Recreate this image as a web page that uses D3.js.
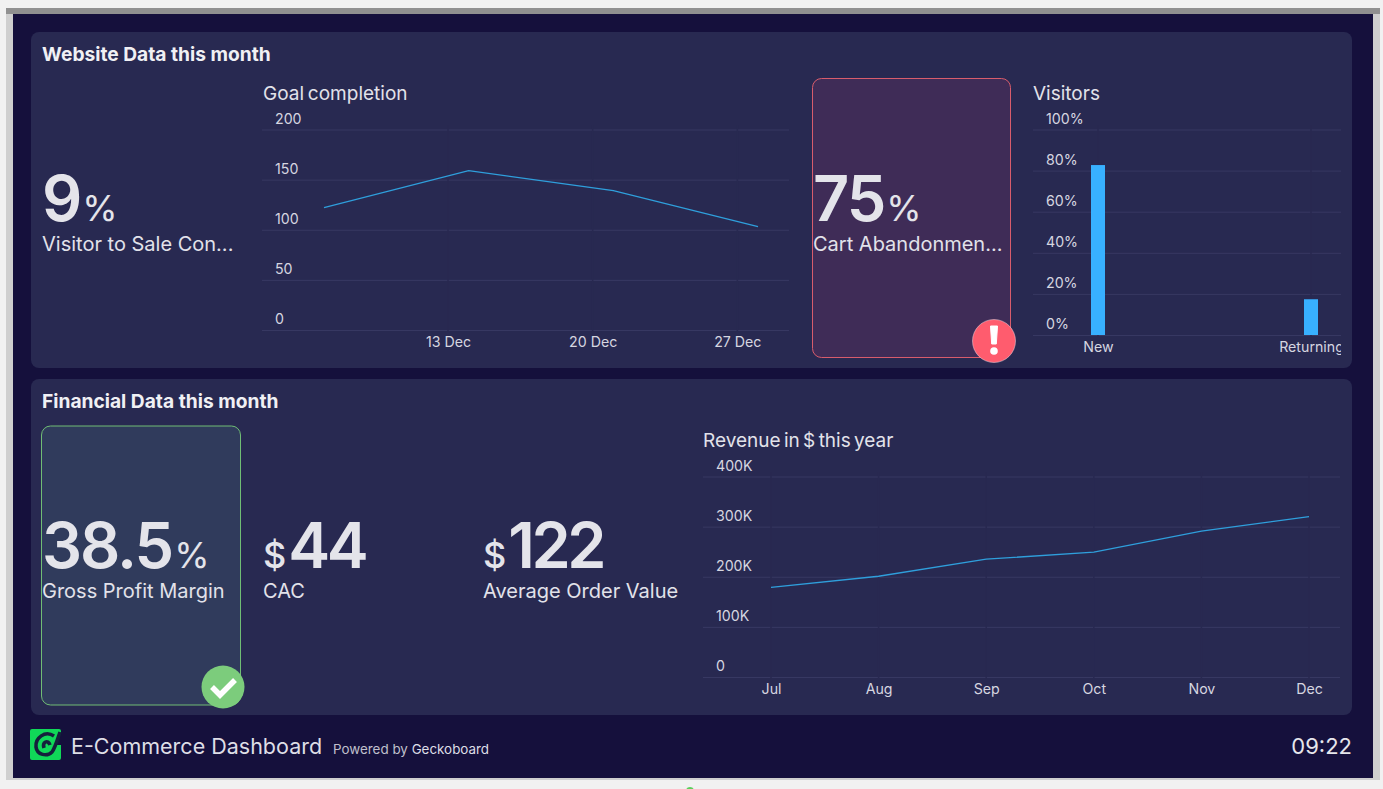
<!DOCTYPE html>
<html>
<head>
<meta charset="utf-8">
<script src="https://cdn.jsdelivr.net/npm/d3@7"></script>
<style>
  html, body { margin: 0; padding: 0; background: #f1f1f1; overflow: hidden; }
  svg { display: block; font-family: Inter, "Noto Sans", sans-serif; }
  .axis path { display: none; }
  .axis line { stroke: #373862; }
  .axis text { fill: #d6d6e0; font-size: 14.2px; font-family: Inter, sans-serif; }
  .title { fill: #e2e2ea; font-size: 19px; word-spacing: -1.5px; }
  .head { fill: #f0f0f4; font-size: 19.2px; font-weight: 700; }
  .big { fill: #e4e4ea; font-weight: 600; }
  .label { fill: #e2e2ea; font-size: 20px; }
</style>
</head>
<body>
<svg id="chart" width="1383" height="789"></svg>
<script>
  // goal completion
  var goalDates = ["2023-12-07", "2023-12-14", "2023-12-21", "2023-12-28"];
  var goalValues = [122, 159, 139, 103];
  var goalTicks = ["2023-12-13", "2023-12-20", "2023-12-27"];
  var goalYTicks = [0, 50, 100, 150, 200];

  // visitors
  var visitorTypes = ["New", "Returning"];
  var visitorShares = [82.7, 17.4];
  var visitorYTicks = [0, 20, 40, 60, 80, 100];

  // revenue
  var months = ["Jul", "Aug", "Sep", "Oct", "Nov", "Dec"];
  var revenue = [179000, 201000, 235000, 249000, 291000, 320000];
  var revenueYTicks = [0, 100000, 200000, 300000, 400000];

  var svg = d3.select("#chart");
  var panelColor = "#282951";

  // frame and background
  svg.append("rect").attr("x", 6).attr("y", 8).attr("width", 1374).attr("height", 772).attr("fill", "#cfcfcf");
  svg.append("rect").attr("x", 6).attr("y", 8).attr("width", 1374).attr("height", 6).attr("fill", "#909090");
  svg.append("rect").attr("x", 13).attr("y", 14).attr("width", 1360).attr("height", 764).attr("fill", "#15103c");

  svg.append("rect").attr("x", 31).attr("y", 32).attr("width", 1321).attr("height", 336).attr("rx", 8).attr("fill", panelColor);
  svg.append("rect").attr("x", 31).attr("y", 379).attr("width", 1321).attr("height", 336).attr("rx", 8).attr("fill", panelColor);

  svg.append("text").attr("class", "head").attr("x", 42).attr("y", 61).text("Website Data this month");
  svg.append("text").attr("class", "head").attr("x", 42).attr("y", 408).text("Financial Data this month");

  // status tiles
  svg.append("rect").attr("x", 812.5).attr("y", 78.5).attr("width", 198).attr("height", 279).attr("rx", 9)
    .attr("fill", "#3f2c57").attr("stroke", "#d85c6c");
  svg.append("rect").attr("x", 41.5).attr("y", 426).attr("width", 199).attr("height", 279).attr("rx", 9)
    .attr("fill", "#303b5c").attr("stroke", "#70bd75");

  function gridAxis(g, y, ticks, width, format) {
    g.attr("class", "axis")
      .call(d3.axisRight(y).tickValues(ticks).tickSize(width).tickFormat(format));
    g.selectAll("text").attr("x", 13).attr("y", -6.5).attr("dy", 0).style("text-anchor", "start");
  }

  function bottomLabels(g, x, ticks, format) {
    g.attr("class", "axis")
      .call(d3.axisBottom(x).tickValues(ticks).tickSize(0).tickPadding(6).tickFormat(format));
    g.selectAll("text").attr("dy", "0.75em");
  }

  // the gridlines have a small notch where each x tick falls
  function notches(xs, x, y0, y1) {
    svg.append("g").selectAll("line").data(xs).enter().append("line")
      .attr("x1", function(d) { return x(d); })
      .attr("x2", function(d) { return x(d); })
      .attr("y1", y0).attr("y2", y1)
      .attr("stroke", panelColor).attr("stroke-width", 1.5);
  }

  function drawLine(x, y, xs, ys) {
    var line = d3.line()
      .x(function(d) { return x(d[0]); })
      .y(function(d) { return y(d[1]); });
    svg.append("path")
      .datum(d3.zip(xs, ys))
      .attr("d", line)
      .attr("fill", "none")
      .attr("stroke", "#2f9fdc")
      .attr("stroke-width", 1.3);
  }

  // Goal completion
  svg.append("text").attr("class", "title").attr("x", 263).attr("y", 100).text("Goal completion");
  var goalParse = d3.utcParse("%Y-%m-%d");
  var goalX = d3.scaleUtc().domain([goalParse("2023-12-04"), new Date(Date.UTC(2023, 11, 29, 12))]).range([262, 789]);
  var goalY = d3.scaleLinear().domain([0, 200]).range([330, 129.5]);
  svg.append("g").attr("transform", "translate(262,0)").call(function(g) {
    gridAxis(g, goalY, goalYTicks, 527, String);
  });
  notches(goalTicks.map(goalParse), goalX, 125, 332);
  svg.append("g").attr("transform", "translate(0,330)").call(function(g) {
    bottomLabels(g, goalX, goalTicks.map(goalParse), d3.utcFormat("%-d %b"));
  });
  drawLine(goalX, goalY, goalDates.map(goalParse), goalValues);

  // Visitors
  svg.append("text").attr("class", "title").attr("x", 1033).attr("y", 100).text("Visitors");
  var visX = d3.scalePoint().domain(visitorTypes).range([1098, 1311]);
  var visY = d3.scaleLinear().domain([0, 100]).range([335, 129.5]);
  svg.append("clipPath").attr("id", "visClip").append("rect")
    .attr("x", 1033).attr("y", 100).attr("width", 308).attr("height", 270);
  var visG = svg.append("g").attr("clip-path", "url(#visClip)");
  visG.append("g").attr("transform", "translate(1033,0)").call(function(g) {
    gridAxis(g, visY, visitorYTicks, 308, function(d) { return d + "%"; });
  });
  notches(visitorTypes, visX, 125, 337);
  var barG = svg.append("g").attr("clip-path", "url(#visClip)");
  barG.selectAll("rect.bar").data(visitorShares).enter().append("rect")
    .attr("class", "bar")
    .attr("x", function(d, i) { return visX(visitorTypes[i]) - 7; })
    .attr("width", 14)
    .attr("y", function(d) { return visY(d); })
    .attr("height", function(d) { return visY(0) - visY(d); })
    .attr("fill", "#38b0ff");
  barG.append("g").attr("transform", "translate(0,335)").call(function(g) {
    bottomLabels(g, visX, visitorTypes, String);
  });

  // Revenue
  svg.append("text").attr("class", "title").attr("x", 703).attr("y", 447).style("word-spacing", "-2px").text("Revenue in $ this year");
  var revX = d3.scalePoint().domain(months).range([771, 1309]);
  var revY = d3.scaleLinear().domain([0, 400000]).range([677, 476.5]);
  svg.append("g").attr("transform", "translate(703,0)").call(function(g) {
    gridAxis(g, revY, revenueYTicks, 637, function(d) { return d ? d / 1000 + "K" : "0"; });
  });
  notches(months, revX, 472, 679);
  svg.append("g").attr("transform", "translate(0,677)").call(function(g) {
    bottomLabels(g, revX, months, String);
  });
  drawLine(revX, revY, months, revenue);

  // number tiles
  function kpi(x, base, prefix, value, suffix, label) {
    var t = svg.append("text").attr("class", "big").attr("x", x).attr("y", base);
    if (prefix) t.append("tspan").attr("font-size", 36).attr("font-weight", 500).text(prefix);
    t.append("tspan").attr("font-size", 63)
      .attr("letter-spacing", prefix ? -3.5 : -2)
      .attr("dx", prefix ? 2 : 0).text(value);
    if (suffix) t.append("tspan").attr("font-size", 36).attr("font-weight", 400).attr("dx", 2).text(suffix);
    svg.append("text").attr("class", "label").attr("x", x).attr("y", base + 30).text(label);
  }
  kpi(42, 221, "", "9", "%", "Visitor to Sale Con...");
  kpi(813, 221, "", "75", "%", "Cart Abandonmen...");
  kpi(42, 568, "", "38.5", "%", "Gross Profit Margin");
  kpi(263, 568, "$", "44", "", "CAC");
  kpi(483, 568, "$", "122", "", "Average Order Value");

  // status badges
  svg.append("circle").attr("cx", 994).attr("cy", 341).attr("r", 21.5).attr("fill", "#ff5c6e").attr("stroke", "#f0d8e0").attr("stroke-width", 0.5);
  svg.append("path").attr("d", "M990.5 326h7l-1.2 18h-4.6z").attr("fill", "#fff").attr("stroke", "#fff").attr("stroke-linejoin", "round");
  svg.append("circle").attr("cx", 994).attr("cy", 351).attr("r", 3.8).attr("fill", "#fff");
  svg.append("circle").attr("cx", 223).attr("cy", 687).attr("r", 21.5).attr("fill", "#7ccc7c");
  svg.append("path").attr("d", "M212 687l8 8l15-15").attr("fill", "none").attr("stroke", "#fff").attr("stroke-width", 5.5);

  // footer logo
  svg.append("rect").attr("x", 30).attr("y", 729).attr("width", 31).attr("height", 31).attr("rx", 2).attr("fill", "#10d858");
  svg.append("path").attr("d", "M61.5 731L61.5 745L55 745z").attr("fill", "#15103c");
  svg.append("path")
    .attr("d", "M54 736C45 730 35 738 36 747C37 755 47 757 52 752C55 748 57 741 60 732M50 745C48 739 42 742 44 748")
    .attr("fill", "none").attr("stroke", "#15203c").attr("stroke-width", 3.6);

  svg.append("text").attr("x", 71).attr("y", 754).attr("font-size", 21.5).attr("fill", "#dedee6").text("E-Commerce Dashboard");
  svg.append("text").attr("x", 333).attr("y", 753.5).attr("font-size", 13.4).attr("fill", "#c0c0cc").text("Powered by ")
    .append("tspan").attr("fill", "#dedee6").text("Geckoboard");
  svg.append("text").attr("x", 1352).attr("y", 754).attr("font-size", 22).attr("text-anchor", "end").attr("fill", "#e6e6ec").text("09:22");
  svg.append("circle").attr("cx", 690).attr("cy", 791).attr("r", 4).attr("fill", "#5ccf5c");
</script>
</body>
</html>
